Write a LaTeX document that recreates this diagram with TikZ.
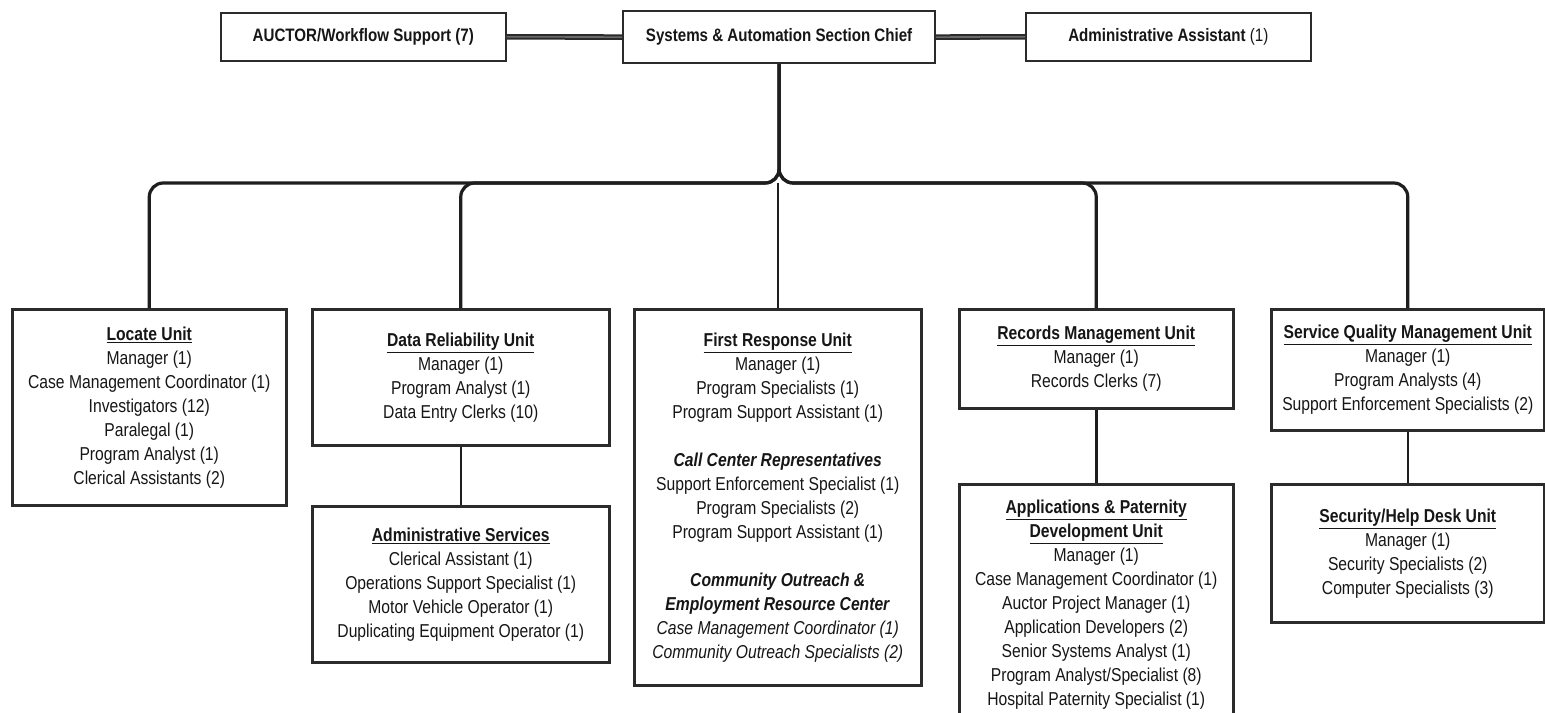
\documentclass[tikz,border=0pt]{standalone}
\usepackage{fontspec}
\setmainfont{Liberation Sans}[FakeStretch=0.84]
\newdimen\pxu
\pxu=0.75pt
\definecolor{boxc}{HTML}{2B2B2B}
\definecolor{linec}{HTML}{1E1E1E}
\definecolor{txtc}{HTML}{161616}
\definecolor{midc}{HTML}{6A6A6A}
\tikzset{
  unitbox/.style={draw=boxc, line width=2.5\pxu, fill=white, align=center, inner sep=0pt,
    text=txtc, font=\fontsize{14}{18}\selectfont, anchor=north west},
  topbox/.style={draw=boxc, line width=1.6\pxu, fill=white, align=center, inner sep=0pt,
    text=txtc, font=\fontsize{13.5}{16}\selectfont, anchor=north west},
  conn/.style={draw=linec, line width=2.5\pxu},
  bus/.style={draw=linec, line width=3.2\pxu, rounded corners=14\pxu},
  sidelink/.style={draw=boxc, line width=2\pxu, double=midc, double distance=1.6\pxu},
}
\begin{document}
\begin{tikzpicture}[x=0.75pt, y=-0.75pt]
\useasboundingbox (0,0) rectangle (1545,713);
\fill[white] (0,0) rectangle (1545,713);

% top row
\node[topbox, minimum width=285\pxu, minimum height=48\pxu] (auctor) at (220,12)
  {\textbf{AUCTOR/Workflow Support (7)}};
\node[topbox, line width=2.2\pxu, minimum width=312\pxu, minimum height=52\pxu] (chief) at (622,10)
  {\textbf{Systems \& Automation Section Chief}};
\node[topbox, minimum width=285\pxu, minimum height=48\pxu] (admin) at (1025,12)
  {\textbf{Administrative Assistant} (1)};

% units
\node[unitbox, minimum width=274\pxu, minimum height=196\pxu] (locate) at (11,308)
  {\underline{\textbf{Locate Unit}}\\Manager (1)\\Case Management Coordinator (1)\\Investigators (12)\\Paralegal (1)\\Program Analyst (1)\\Clerical Assistants (2)};
\node[unitbox, minimum width=297\pxu, minimum height=136\pxu] (dr) at (311,308)
  {\underline{\textbf{Data Reliability Unit}}\\Manager (1)\\Program Analyst (1)\\Data Entry Clerks (10)};
\node[unitbox, minimum width=297\pxu, minimum height=156\pxu] (adms) at (311,505)
  {\underline{\textbf{Administrative Services}}\\Clerical Assistant (1)\\Operations Support Specialist (1)\\Motor Vehicle Operator (1)\\Duplicating Equipment Operator (1)};
\node[unitbox, minimum width=287\pxu, minimum height=376\pxu] (fr) at (633,308)
  {\underline{\textbf{First Response Unit}}\\Manager (1)\\Program Specialists (1)\\Program Support Assistant (1)\\[18pt]
   \textbf{\textit{Call Center Representatives}}\\Support Enforcement Specialist (1)\\Program Specialists (2)\\Program Support Assistant (1)\\[18pt]
   \textbf{\textit{Community Outreach \&}}\\\textbf{\textit{Employment Resource Center}}\\\textit{Case Management Coordinator (1)}\\\textit{Community Outreach Specialists (2)}};
\node[unitbox, minimum width=274\pxu, minimum height=99\pxu] (rec) at (958,308)
  {\underline{\textbf{Records Management Unit}}\\Manager (1)\\Records Clerks (7)};
\node[unitbox, minimum width=274\pxu, minimum height=240\pxu] (app) at (958,483)
  {\underline{\textbf{Applications \& Paternity}}\\\underline{\textbf{Development Unit}}\\Manager (1)\\Case Management Coordinator (1)\\Auctor Project Manager (1)\\Application Developers (2)\\Senior Systems Analyst (1)\\Program Analyst/Specialist (8)\\Hospital Paternity Specialist (1)};
\node[unitbox, minimum width=273\pxu, minimum height=121\pxu] (sqm) at (1270,308)
  {\underline{\textbf{Service Quality Management Unit}}\\Manager (1)\\Program Analysts (4)\\Support Enforcement Specialists (2)};
\node[unitbox, minimum width=273\pxu, minimum height=138\pxu] (sec) at (1270,483)
  {\underline{\textbf{Security/Help Desk Unit}}\\Manager (1)\\Security Specialists (2)\\Computer Specialists (3)};

% connectors
\coordinate (busy) at (778,183);
\draw[sidelink] (auctor.east) -- (chief.west);
\draw[sidelink] (chief.east) -- (admin.west);
\draw[bus] (chief.south) -- (chief.south |- busy) -| (locate.north);
\draw[bus] (chief.south) -- (chief.south |- busy) -| (dr.north);
\draw[bus] (chief.south) -- (chief.south |- busy) -| (rec.north);
\draw[bus] (chief.south) -- (chief.south |- busy) -| (sqm.north);
\draw[conn, line width=2\pxu] (busy) -- (busy |- fr.north);
\draw[conn] (dr.south) -- (adms.north);
\draw[conn] (rec.south) -- (app.north);
\draw[conn] (sqm.south) -- (sec.north);
\end{tikzpicture}
\end{document}
